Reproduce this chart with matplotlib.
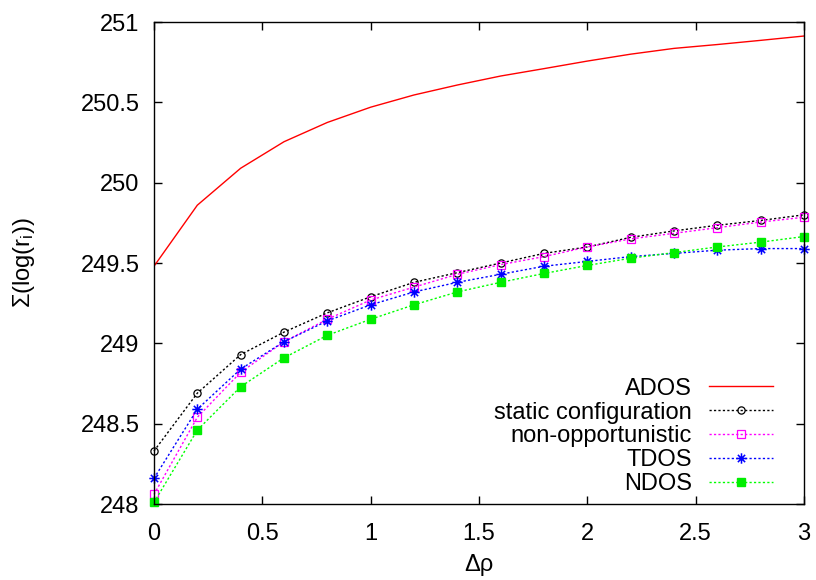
import matplotlib
matplotlib.use("Agg")
import matplotlib.pyplot as plt
from matplotlib.path import Path

plt.rcParams['font.family'] = ['Liberation Sans', 'DejaVu Sans']
plt.rcParams['mathtext.default'] = 'regular'

# sampled values of delta rho
drho = [0.0, 0.2, 0.4, 0.6, 0.8, 1.0, 1.2, 1.4, 1.6, 1.8, 2.0, 2.2, 2.4, 2.6, 2.8, 3.0]

ados = [249.48, 249.86, 250.09, 250.255, 250.375, 250.47, 250.546, 250.608,
        250.664, 250.71, 250.757, 250.80, 250.836, 250.86, 250.886, 250.913]
static_conf = [248.33, 248.69, 248.93, 249.07, 249.19, 249.29, 249.38, 249.44,
               249.50, 249.56, 249.60, 249.66, 249.70, 249.735, 249.765, 249.80]
non_opp = [248.06, 248.54, 248.82, 249.01, 249.15, 249.27, 249.35, 249.43,
           249.49, 249.54, 249.60, 249.65, 249.685, 249.72, 249.755, 249.785]
tdos = [248.16, 248.59, 248.84, 249.01, 249.14, 249.24, 249.32, 249.38,
        249.43, 249.48, 249.51, 249.54, 249.56, 249.58, 249.59, 249.59]
ndos = [248.01, 248.46, 248.73, 248.91, 249.05, 249.15, 249.24, 249.32,
        249.38, 249.435, 249.485, 249.53, 249.565, 249.60, 249.63, 249.665]

xticks = [0, 0.5, 1, 1.5, 2, 2.5, 3]
xticklabels = ['0', '0.5', '1', '1.5', '2', '2.5', '3']
yticks = [248, 248.5, 249, 249.5, 250, 250.5, 251]
yticklabels = ['248', '248.5', '249', '249.5', '250', '250.5', '251']

# gnuplot style "*" point: plus and cross together
star = Path([(-1, 0), (1, 0), (0, -1), (0, 1),
             (-0.7, -0.7), (0.7, 0.7), (-0.7, 0.7), (0.7, -0.7)],
            [Path.MOVETO, Path.LINETO] * 4)

dots = (0, (1.6, 1.6))
fs = 17

fig = plt.figure(figsize=(8.16, 5.8), dpi=100)
ax = fig.add_axes([0.1887, 0.131, 0.7966, 0.831])

ax.plot(drho, ados, color='#ff0000', lw=1.0, label='ADOS')
ax.plot(drho, static_conf, color='black', lw=1.0, ls=dots, marker='o', ms=5.2,
        mfc='none', mew=0.9, label='static configuration', clip_on=False)
ax.plot(drho, non_opp, color='#ff00ff', lw=1.0, ls=dots, marker='s', ms=5.5,
        mfc='none', mew=0.9, label='non-opportunistic', clip_on=False)
ax.plot(drho, tdos, color='#0000ff', lw=1.0, ls=dots, marker=star, ms=7.5,
        mew=1.1, label='TDOS', clip_on=False)
ax.plot(drho, ndos, color='#00ff00', lw=1.0, ls=dots, marker='s', ms=6,
        mec='#00ee00', mfc='#00ee00', label='NDOS', clip_on=False)

ax.set_xlim(0, 3)
ax.set_ylim(248, 251)
ax.set_xticks(xticks)
ax.set_xticklabels(xticklabels)
ax.set_yticks(yticks)
ax.set_yticklabels(yticklabels)
ax.tick_params(direction='in', length=5.5, width=1.0, top=True, right=True,
               labelsize=fs)
ax.tick_params(axis='x', pad=14)
ax.tick_params(axis='y', pad=10.5)
for sp in ax.spines.values():
    sp.set_linewidth(1.0)

ax.set_xlabel('Δρ', fontsize=fs)
ax.set_ylabel('Σ(log(r$_i$))', fontsize=fs)
ax.xaxis.set_label_coords(0.5, -0.104)
ax.yaxis.set_label_coords(-0.18, 0.5)

leg = ax.legend(loc='lower right', bbox_to_anchor=(0.978, -0.016), frameon=False,
                markerfirst=False, fontsize=fs, handlelength=2.7,
                handletextpad=0.75, labelspacing=0.08, borderaxespad=0.3)

fig.savefig('out.png', dpi=100)
